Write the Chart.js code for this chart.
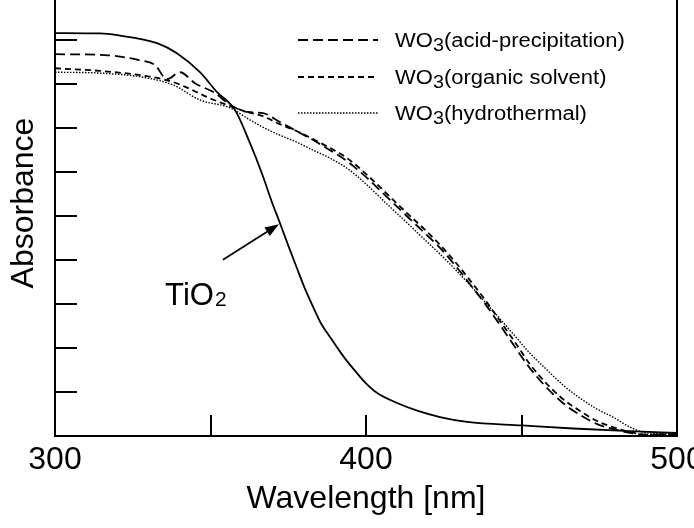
<!DOCTYPE html>
<html><head><meta charset="utf-8">
<script src="https://cdn.jsdelivr.net/npm/chart.js@4/dist/chart.umd.min.js"></script>
<style>html,body{margin:0;padding:0;background:#fff;overflow:hidden}canvas{display:block}</style>
</head><body>
<canvas id="c" width="694" height="528" style="width:694px;height:528px"></canvas>
<script>
// ---- data ----
const tio2Wl  = [300, 314.5, 320, 332.8, 339.2, 346.6, 352.1, 357.9, 362.7, 366.6, 369.5, 372.3, 375.2, 377.8, 380.4, 383.0, 385.5, 388.4, 391.3, 393.9, 396.5, 399.0, 403.5, 410.0, 416.7, 423.8, 432.5, 450.2, 466.6, 484.9, 500];
const tio2Abs = [9.15, 9.14, 9.10, 8.92, 8.69, 8.26, 7.81, 7.40, 6.65, 5.95, 5.36, 4.84, 4.29, 3.81, 3.34, 2.93, 2.56, 2.25, 1.95, 1.70, 1.48, 1.27, 0.98, 0.75, 0.57, 0.43, 0.32, 0.24, 0.17, 0.11, 0.07];

const acidWl  = [300, 316, 321.5, 326.7, 332.2, 336, 340.2, 345, 351.4, 356.3, 361.7, 366.9, 372.3, 377.8, 383.0, 388.4, 393.9, 399.7, 406.1, 413.2, 419.0, 423.8, 428.6, 433.4, 438.3, 443.1, 447.9, 452.7, 458.2, 463.3, 468.8, 474.3, 479.4, 484.9, 490.4, 500];
const acidAbs = [8.67, 8.65, 8.61, 8.54, 8.42, 8.10, 8.26, 8.01, 7.79, 7.52, 7.36, 7.33, 7.13, 6.92, 6.72, 6.49, 6.24, 5.90, 5.47, 4.99, 4.60, 4.27, 3.88, 3.45, 3.00, 2.52, 2.02, 1.54, 1.09, 0.75, 0.48, 0.27, 0.16, 0.07, 0.03, 0.05];

const orgWl   = [300, 314.5, 329.6, 337.9, 343.4, 349.8, 356.3, 361.7, 366.9, 372.3, 377.8, 383.0, 388.4, 393.9, 399.7, 406.1, 413.2, 419.0, 423.8, 428.6, 433.4, 438.3, 443.1, 447.9, 452.7, 458.2, 463.3, 468.8, 474.3, 479.4, 484.9, 490.4, 500];
const orgAbs  = [8.35, 8.29, 8.17, 8.04, 7.88, 7.67, 7.49, 7.36, 7.26, 7.08, 6.92, 6.74, 6.54, 6.31, 5.97, 5.54, 5.06, 4.68, 4.34, 3.96, 3.54, 3.09, 2.61, 2.13, 1.63, 1.18, 0.84, 0.57, 0.34, 0.20, 0.09, 0.03, 0.05];

const hydWl   = [300, 314.5, 329.6, 338, 346.6, 356.3, 361.7, 366.9, 372.3, 377.8, 383.0, 388.4, 393.9, 399.7, 406.1, 413.2, 419.0, 423.8, 428.6, 433.4, 438.3, 443.1, 447.9, 452.7, 458.2, 463.3, 468.8, 474.3, 479.4, 484.9, 490.4, 500];
const hydAbs  = [8.26, 8.24, 8.13, 7.97, 7.63, 7.45, 7.22, 7.01, 6.83, 6.67, 6.49, 6.31, 6.08, 5.74, 5.31, 4.84, 4.45, 4.13, 3.79, 3.43, 3.04, 2.66, 2.27, 1.88, 1.50, 1.16, 0.86, 0.61, 0.43, 0.20, 0.07, 0.05];

const xTickLabelValues = [300, 400, 500];
const xTickMarkValues  = [350, 400, 450];
const yTickMarkValues  = [1, 2, 3, 4, 5, 6, 7, 8, 9];
const legendParts = [["WO", "3", "(acid-precipitation)"], ["WO", "3", "(organic solvent)"], ["WO", "3", "(hydrothermal)"]];
const xTitle = "Wavelength [nm]";
const yTitle = "Absorbance";
const tio2Label = ["TiO", "2"];
const tio2LabelAt = [335.4, 2.97];
const arrowFrom = [354.0, 4.0];
const arrowTo   = [372.0, 4.81];

// ---- styling ----
const FONT = "'Liberation Sans', Arial, Helvetica, sans-serif";
const dashes = [[10, 5], [6, 4], [1.5, 1.5]];
const widths = [1.8, 1.8, 1.4];

function pts(xs, ys) { return xs.map((x, i) => ({x: x, y: ys[i]})); }

const datasets = [
  {label: 'TiO2', data: pts(tio2Wl, tio2Abs), borderColor: '#000', borderWidth: 1.8, borderDash: []},
  {label: legendParts[0].join(''), data: pts(acidWl, acidAbs), borderColor: '#000', borderWidth: widths[0], borderDash: dashes[0]},
  {label: legendParts[1].join(''), data: pts(orgWl, orgAbs), borderColor: '#000', borderWidth: widths[1], borderDash: dashes[1]},
  {label: legendParts[2].join(''), data: pts(hydWl, hydAbs), borderColor: '#000', borderWidth: widths[2], borderDash: dashes[2]}
].map(d => Object.assign(d, {pointRadius: 0, fill: false, cubicInterpolationMode: 'monotone', showLine: true}));

const decor = {
  id: 'decor',
  afterDraw(chart) {
    const ctx = chart.ctx, ca = chart.chartArea;
    const xs = chart.scales.x, ys = chart.scales.y;
    ctx.save();
    ctx.strokeStyle = '#000'; ctx.fillStyle = '#000'; ctx.lineWidth = 2; ctx.setLineDash([]);
    // right frame line
    ctx.beginPath(); ctx.moveTo(ca.right, ca.top); ctx.lineTo(ca.right, ca.bottom + 1); ctx.stroke();
    // inward tick marks
    xTickMarkValues.forEach(v => {
      const px = Math.round(xs.getPixelForValue(v));
      ctx.beginPath(); ctx.moveTo(px, ca.bottom); ctx.lineTo(px, ca.bottom - 21); ctx.stroke();
    });
    yTickMarkValues.forEach(v => {
      const py = Math.round(ys.getPixelForValue(v));
      ctx.beginPath(); ctx.moveTo(ca.left, py); ctx.lineTo(ca.left + 22, py); ctx.stroke();
    });
    // y title
    ctx.save();
    ctx.translate(33, 203); ctx.rotate(-Math.PI / 2);
    ctx.font = '32px ' + FONT; ctx.textAlign = 'center'; ctx.textBaseline = 'alphabetic';
    ctx.fillText(yTitle, 0, 0);
    ctx.restore();
    // legend
    const rows = [40, 77, 113];
    legendParts.forEach((parts, i) => {
      ctx.save();
      ctx.lineWidth = widths[i] + 0.2; ctx.setLineDash(dashes[i]);
      ctx.beginPath(); ctx.moveTo(298, rows[i]); ctx.lineTo(378, rows[i]); ctx.stroke();
      ctx.restore();
      ctx.save();
      ctx.translate(395, rows[i] + 7); ctx.scale(1.1, 1);
      let x = 0;
      ctx.textAlign = 'left'; ctx.textBaseline = 'alphabetic';
      ctx.font = '20px ' + FONT; ctx.fillText(parts[0], x, 0); x += ctx.measureText(parts[0]).width;
      ctx.font = '18px ' + FONT; ctx.fillText(parts[1], x, 4); x += ctx.measureText(parts[1]).width;
      ctx.font = '20px ' + FONT; ctx.fillText(parts[2], x, 0);
      ctx.restore();
    });
    // TiO2 label
    let lx = xs.getPixelForValue(tio2LabelAt[0]); const ly = ys.getPixelForValue(tio2LabelAt[1]);
    ctx.font = '31px ' + FONT; ctx.textAlign = 'left'; ctx.textBaseline = 'alphabetic';
    ctx.fillText(tio2Label[0], lx, ly); lx += ctx.measureText(tio2Label[0]).width;
    ctx.font = '21px ' + FONT; ctx.fillText(tio2Label[1], lx + 1, ly + 1);
    // arrow
    const ax0 = xs.getPixelForValue(arrowFrom[0]), ay0 = ys.getPixelForValue(arrowFrom[1]);
    const ax1 = xs.getPixelForValue(arrowTo[0]), ay1 = ys.getPixelForValue(arrowTo[1]);
    const ang = Math.atan2(ay1 - ay0, ax1 - ax0), hl = 14, hw = 5;
    const bx = ax1 - hl * Math.cos(ang), by = ay1 - hl * Math.sin(ang);
    ctx.lineWidth = 1.8;
    ctx.beginPath(); ctx.moveTo(ax0, ay0); ctx.lineTo(bx, by); ctx.stroke();
    ctx.beginPath(); ctx.moveTo(ax1, ay1);
    ctx.lineTo(bx + hw * Math.sin(ang), by - hw * Math.cos(ang));
    ctx.lineTo(bx - hw * Math.sin(ang), by + hw * Math.cos(ang));
    ctx.closePath(); ctx.fill();
    ctx.restore();
  }
};

new Chart(document.getElementById('c'), {
  type: 'line',
  data: {datasets: datasets},
  plugins: [decor],
  options: {
    responsive: false, animation: false, devicePixelRatio: 1,
    layout: {padding: {left: 0, right: 17, top: 0, bottom: 0}},
    plugins: {legend: {display: false}, tooltip: {enabled: false}},
    scales: {
      x: {
        type: 'linear', position: 'bottom', min: 300, max: 500,
        grid: {display: false, drawTicks: false},
        border: {display: true, color: '#000', width: 2},
        ticks: {stepSize: 100, autoSkip: false, maxRotation: 0, padding: 5, color: '#000',
                font: {size: 32, family: FONT},
                callback: v => xTickLabelValues.includes(v) ? String(v) : ''},
        title: {display: true, text: xTitle, color: '#000', font: {size: 32, family: FONT}, padding: {top: 0, bottom: 10}},
        afterFit: s => { s.height = 92; s.paddingLeft = 0; s.paddingRight = 0; }
      },
      y: {
        type: 'linear', position: 'left', min: 0, max: 9.9,
        grid: {display: false, drawTicks: false},
        border: {display: true, color: '#000', width: 2},
        ticks: {display: false},
        afterFit: s => { s.width = 55; s.paddingTop = 0; s.paddingBottom = 0; }
      }
    }
  }
});
</script>
</body></html>
